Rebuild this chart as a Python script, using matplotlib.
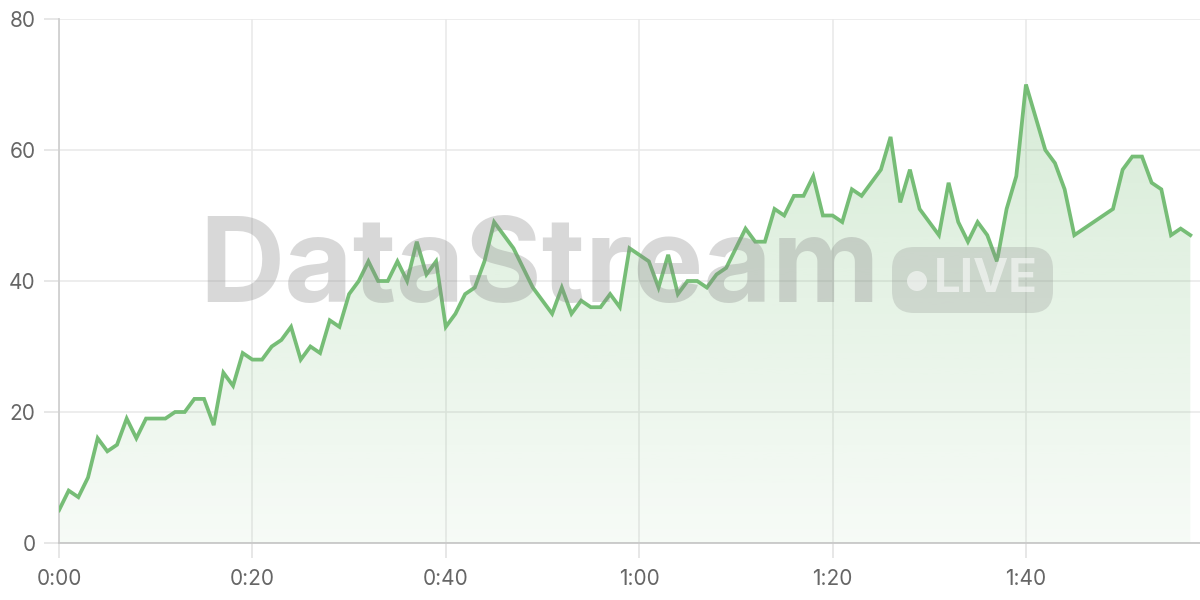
import numpy as np
import matplotlib
matplotlib.use("Agg")
import matplotlib.pyplot as plt
from matplotlib.patches import FancyBboxPatch, Circle
from matplotlib.transforms import IdentityTransform
from matplotlib.ticker import FuncFormatter, MultipleLocator

plt.rcParams['font.family'] = ['Inter', 'DejaVu Sans']

# segundos desde o inicio (falta 106-108, a linha liga 105 a 109 direto)
segundos = list(range(0, 106)) + list(range(109, 118))
valores = [
    5, 8, 7, 10, 16, 14, 15, 19, 16, 19,
    19, 19, 20, 20, 22, 22, 18, 26, 24, 29,
    28, 28, 30, 31, 33, 28, 30, 29, 34, 33,
    38, 40, 43, 40, 40, 43, 40, 46, 41, 43,
    33, 35, 38, 39, 43, 49, 47, 45, 42, 39,
    37, 35, 39, 35, 37, 36, 36, 38, 36, 45,
    44, 43, 39, 44, 38, 40, 40, 39, 41, 42,
    45, 48, 46, 46, 51, 50, 53, 53, 56, 50,
    50, 49, 54, 53, 55, 57, 62, 52, 57, 51,
    49, 47, 55, 49, 46, 49, 47, 43, 51, 56,
    70, 65, 60, 58, 54, 47,
    51, 57, 59, 59, 55, 54, 47, 48, 47,
]

cor_linha = '#76bd76'
cor_texto = '#666666'

fig = plt.figure(figsize=(12, 6), dpi=100)
ax = fig.add_axes([59 / 1200, 57 / 600, 1 - 59 / 1200, 1 - 57 / 600 - 19 / 600])

x = np.array(segundos)
y = np.array(valores)

# preenchimento em degrade
poly = ax.fill_between(x, y, 0, color='none', lw=0)
grad = np.linspace(0.06, 0.30, 256).reshape(-1, 1)
rgba = np.zeros((256, 1, 4))
rgba[..., 0] = 118 / 255
rgba[..., 1] = 189 / 255
rgba[..., 2] = 118 / 255
rgba[..., 3] = grad
img = ax.imshow(rgba, extent=[0, 118, 0, 72], origin='lower', aspect='auto', zorder=1)
img.set_clip_path(poly.get_paths()[0], transform=ax.transData)

# marca d'agua (em pixels, figura de 1200x600)
px = IdentityTransform()
fig.text(540 / 1200, 1 - 271 / 600, 'DataStream', fontsize=85, fontweight='bold',
         color='#888888', alpha=0.32, ha='center', va='center', zorder=2)
pill = FancyBboxPatch((892, 600 - 313), 161, 66,
                      boxstyle='round,pad=0,rounding_size=22', transform=px,
                      facecolor='#888888', alpha=0.25, edgecolor='none', zorder=2)
fig.add_artist(pill)
fig.add_artist(Circle((917, 600 - 281), 10, transform=px,
                      facecolor='white', alpha=0.55, edgecolor='none', zorder=3))
fig.text(986 / 1200, 1 - 280 / 600, 'LIVE', fontsize=34, fontweight='bold',
         color='white', alpha=0.55, ha='center', va='center', zorder=3)

ax.plot(x, y, color=cor_linha, lw=2.7, zorder=4, solid_joinstyle='miter')

ax.set_xlim(0, 118)
ax.set_ylim(0, 80)
ax.xaxis.set_major_locator(MultipleLocator(20))
ax.yaxis.set_major_locator(MultipleLocator(20))
ax.xaxis.set_major_formatter(FuncFormatter(lambda v, p: f'{int(v) // 60}:{int(v) % 60:02d}'))
ax.grid(True, color='#e8e8e8', lw=1.1, zorder=0)
ax.set_axisbelow(True)

for s in ['top', 'right']:
    ax.spines[s].set_visible(False)
ax.spines['left'].set_color('#d0d0d0')
ax.spines['bottom'].set_color('#c8c8c8')
ax.spines['left'].set_linewidth(1.3)
ax.spines['bottom'].set_linewidth(1.3)

ax.tick_params(axis='both', length=11, width=1.1, color='#e0e0e0', labelcolor=cor_texto, labelsize=15)
ax.tick_params(axis='x', pad=8)
ax.tick_params(axis='y', pad=6)

fig.savefig('out.png', dpi=100)
